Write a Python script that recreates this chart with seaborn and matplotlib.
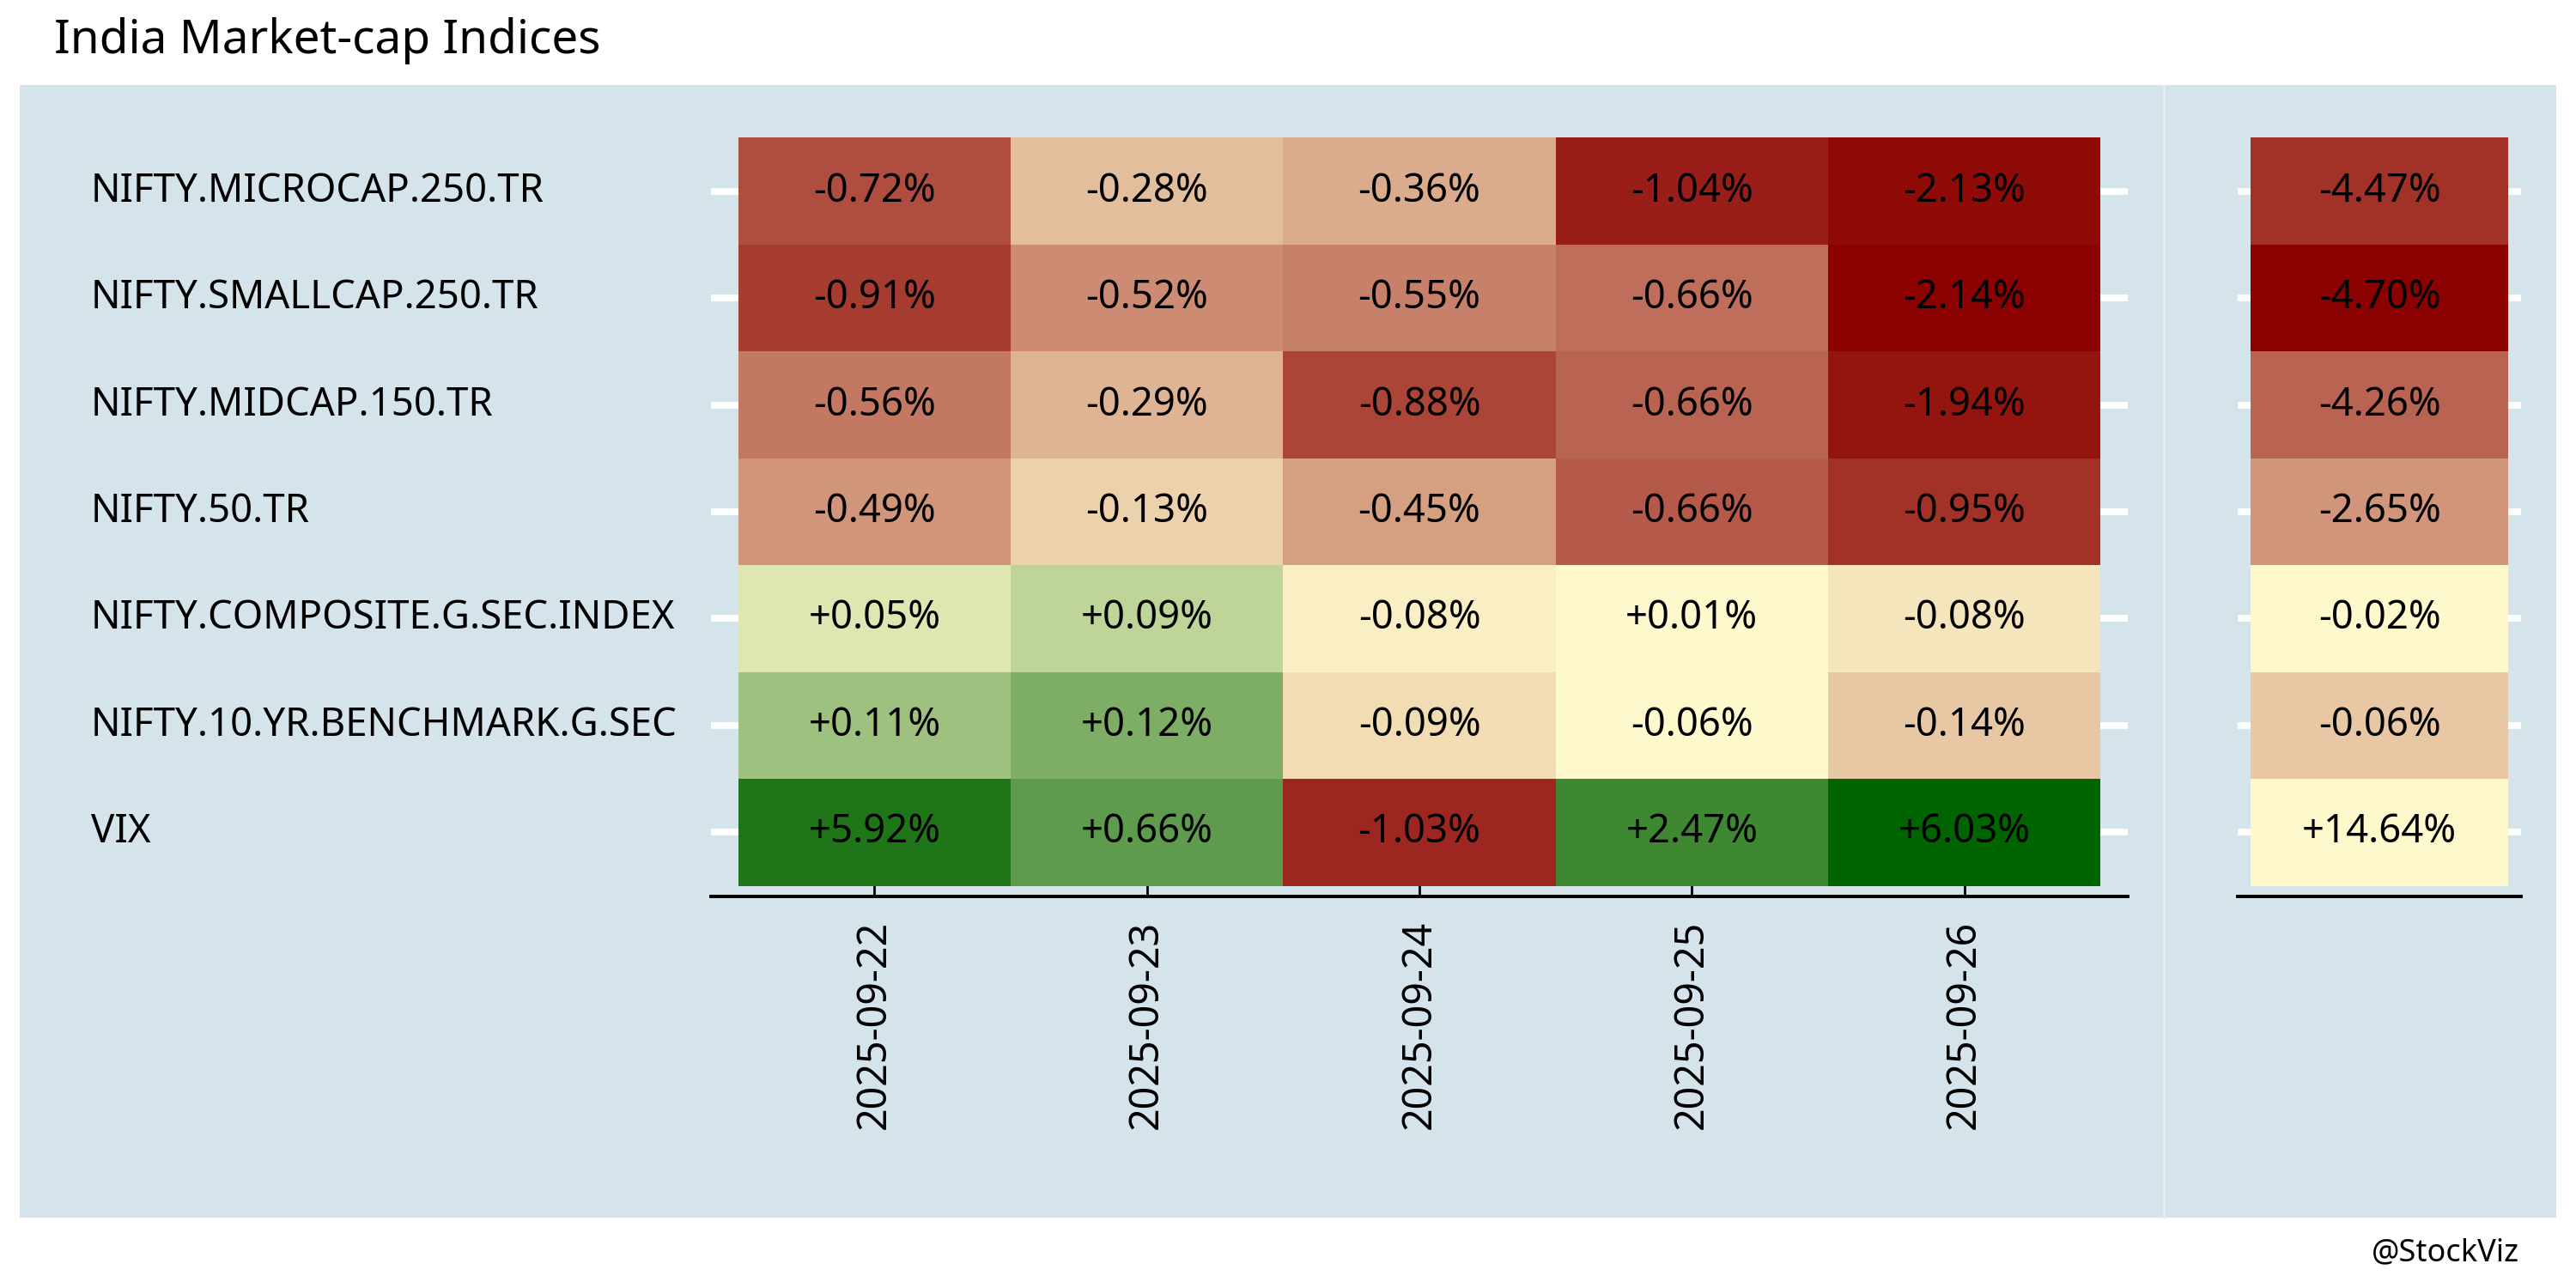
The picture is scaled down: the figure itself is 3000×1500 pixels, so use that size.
import numpy as np
import pandas as pd
import matplotlib
matplotlib.use("Agg")
import matplotlib.pyplot as plt
import seaborn as sns
from matplotlib.colors import LinearSegmentedColormap
from matplotlib.patches import Rectangle
from matplotlib.lines import Line2D

indices = ["NIFTY.MICROCAP.250.TR", "NIFTY.SMALLCAP.250.TR", "NIFTY.MIDCAP.150.TR",
           "NIFTY.50.TR", "NIFTY.COMPOSITE.G.SEC.INDEX", "NIFTY.10.YR.BENCHMARK.G.SEC", "VIX"]
dates = ["2025-09-22", "2025-09-23", "2025-09-24", "2025-09-25", "2025-09-26"]

microcap = [-0.72, -0.28, -0.36, -1.04, -2.13]
smallcap = [-0.91, -0.52, -0.55, -0.66, -2.14]
midcap = [-0.56, -0.29, -0.88, -0.66, -1.94]
nifty50 = [-0.49, -0.13, -0.45, -0.66, -0.95]
gsec = [0.05, 0.09, -0.08, 0.01, -0.08]
tenyr = [0.11, 0.12, -0.09, -0.06, -0.14]
vix = [5.92, 0.66, -1.03, 2.47, 6.03]
totals = [-4.47, -4.70, -4.26, -2.65, -0.02, -0.06, 14.64]

daily = pd.DataFrame([microcap, smallcap, midcap, nifty50, gsec, tenyr, vix],
                     index=indices, columns=dates)
total = pd.DataFrame({"total": totals}, index=indices)


def rank_scale(df):
    # colour by rank, separately for losses and gains, pale at zero
    s = df.stack()
    out = pd.Series(0.5, index=s.index)
    for sign in (-1, 1):
        part = s[np.sign(s) == sign]
        if len(part) == 0:
            continue
        r = part.abs().rank(method="first") - 1
        frac = r / (len(part) - 1) if len(part) > 1 else r * 0
        out[part.index] = 0.5 + sign * 0.5 * frac
    return out.unstack().loc[df.index, df.columns]


def labels(df):
    return df.map(lambda v: f"{v:+.2f}%").values


sns.set_style("white")
plt.rcParams['font.family'] = ['Noto Sans', 'DejaVu Sans']
plt.rcParams['text.color'] = 'black'
plt.rcParams['xtick.color'] = 'black'
plt.rcParams['ytick.color'] = 'black'

cmap = LinearSegmentedColormap.from_list("rg", ["#8b0000", "#fffacd", "#006400"])
bg = "#d5e4eb"

fig = plt.figure(figsize=(15, 7.5), dpi=200)
fig.patches.append(Rectangle((0.00767, 0.0547), 0.98467, 0.8793, transform=fig.transFigure,
                             facecolor=bg, edgecolor="none", zorder=-10))
fig.lines.append(Line2D([0.84, 0.84], [0.0547, 0.934], transform=fig.transFigure,
                        color="#e3ecf1", lw=1.0, zorder=-5))

ax1 = fig.add_axes([0.276, 0.304, 0.550, 0.5973])
ax2 = fig.add_axes([0.8687, 0.304, 0.110, 0.5973])

fs = 16.4
for ax, df in ((ax1, daily), (ax2, total)):
    ax.set_facecolor("none")
    sns.heatmap(rank_scale(df), ax=ax, cmap=cmap, vmin=0, vmax=1, cbar=False,
                annot=labels(df), fmt="", annot_kws={"size": fs, "color": "black"},
                linewidths=0)
    ax.set_ylim(7.1, -0.1)
    # white horizontal grid behind the tiles
    ax.hlines(np.arange(7) + 0.5, -1, 6, color="white", lw=2.8, zorder=0.5)
    for side in ("top", "left", "right"):
        ax.spines[side].set_visible(False)
    ax.spines["bottom"].set_visible(True)
    ax.spines["bottom"].set_color("black")
    ax.spines["bottom"].set_linewidth(1.4)
    ax.set_xlabel("")
    ax.set_ylabel("")

ax1.set_xlim(-0.1, 5.1)
ax1.tick_params(axis="x", bottom=True, direction="in", length=7, width=1.0, color="black",
                pad=10, labelsize=16.8, labelrotation=90)
ax1.tick_params(axis="y", left=True, length=0, pad=260, labelsize=fs)
ax1.set_yticklabels(indices, rotation=0, ha="left")

ax2.set_xlim(-0.05, 1.05)
ax2.set_xticks([])
ax2.set_yticks([])

fig.text(0.021, 0.9587, "India Market-cap Indices", fontsize=19.8, va="baseline", ha="left")
fig.text(0.978, 0.0213, "@StockViz", fontsize=13, va="baseline", ha="right")

fig.savefig("out.png", dpi=200)
